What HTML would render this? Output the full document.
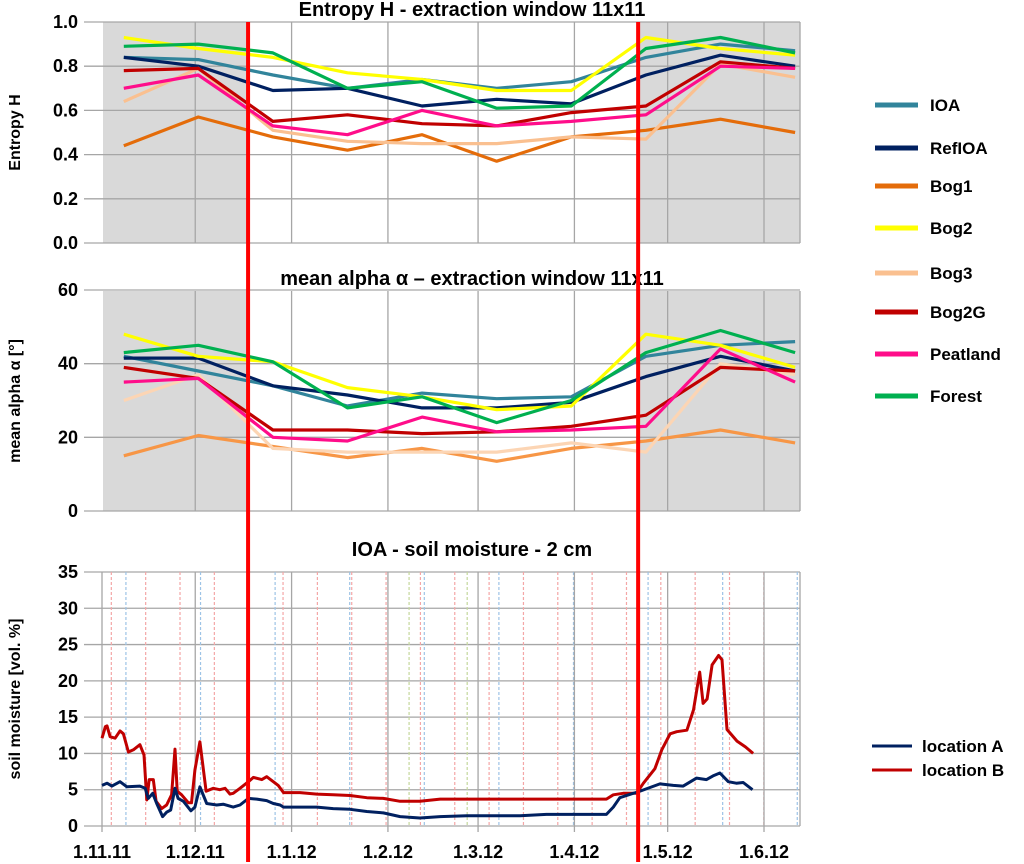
<!DOCTYPE html>
<html><head><meta charset="utf-8"><style>
html,body{margin:0;padding:0;background:#fff;}
svg{display:block;font-family:"Liberation Sans",sans-serif;}
</style></head><body>
<svg id="c" width="1024" height="864" xmlns="http://www.w3.org/2000/svg"></svg>
<script>
// ---- data ----
const acqDays = [7,31,55,79,103,127,151,175,199,223];
const seriesNames = ["IOA","RefIOA","Bog1","Bog2","Bog3","Bog2G","Peatland","Forest"];
const entIOA = [0.84,0.83,0.76,0.70,0.74,0.70,0.73,0.84,0.90,0.87];
const entRefIOA = [0.84,0.80,0.69,0.70,0.62,0.65,0.63,0.76,0.85,0.80];
const entBog1 = [0.44,0.57,0.48,0.42,0.49,0.37,0.48,0.51,0.56,0.50];
const entBog2 = [0.93,0.88,0.84,0.77,0.74,0.69,0.69,0.93,0.88,0.85];
const entBog3 = [0.64,0.79,0.51,0.46,0.45,0.45,0.48,0.47,0.81,0.75];
const entBog2G = [0.78,0.79,0.55,0.58,0.54,0.53,0.59,0.62,0.82,0.79];
const entPeatland = [0.70,0.76,0.53,0.49,0.60,0.53,0.55,0.58,0.80,0.79];
const entForest = [0.89,0.90,0.86,0.70,0.73,0.61,0.62,0.88,0.93,0.86];
const alpIOA = [42,38,34,28.5,32,30.5,31,42,45,46];
const alpRefIOA = [41.5,41.5,34,31.5,28,28,29.5,36.5,42,38];
const alpBog1 = [15,20.5,17.5,14.5,17,13.5,17,19,22,18.5];
const alpBog2 = [48,42,40.5,33.5,31,27.5,28.5,48,45,39];
const alpBog3 = [30,37,17,16,16,16,18.5,16,40,37];
const alpBog2G = [39,36,22,22,21,21.5,23,26,39,38];
const alpPeatland = [35,36,20,19,25.5,21.5,22,23,44,35];
const alpForest = [43,45,40.5,28,31,24,30,43,49,43];
const entTicks = ["0.0","0.2","0.4","0.6","0.8","1.0"];
const alpTicks = ["0","20","40","60"];
const smTicks = ["0","5","10","15","20","25","30","35"];
const monthLabels = ["1.11.11","1.12.11","1.1.12","1.2.12","1.3.12","1.4.12","1.5.12","1.6.12"];
const monthDays = [0,30,61,92,121,152,182,213];
const periodDays = [47,172.5];
const smDaysA = [0,1.6,3.2,5.8,8,12.2,13.9,14.9,16.3,17.6,19.5,20.8,22.1,23.5,24.5,26.2,28.6,29.9,31.5,33.7,36.9,39,42.2,44.4,47.1,49.8,53,55.1,57.3,58.4,69.1,74.4,79.8,85.2,90.5,95.9,102.3,108.8,117.4,134.5,143,162.3,164.5,166.6,170.9,172.5,179.5,183.8,187,191.3,194.5,196.6,198.8,201.5,204.1,206.3,209.3];
const smValsA = [5.6,5.9,5.5,6.1,5.4,5.5,5.2,3.8,4.5,3.1,1.3,1.9,2.2,5.2,3.8,3.4,2.1,2.6,5.4,3.1,2.9,3.0,2.6,2.9,3.8,3.7,3.5,3.1,2.9,2.6,2.6,2.4,2.3,2.0,1.8,1.3,1.1,1.3,1.4,1.4,1.6,1.6,2.6,3.9,4.5,4.7,5.8,5.6,5.5,6.6,6.4,6.9,7.3,6.1,5.9,6.0,5.0];
const smDaysB = [0,1.1,1.6,2.6,4.2,5.8,6.9,8.5,10.1,12.2,13.5,14.4,15.2,16.5,17.4,19.2,20.8,22.4,23.5,24.2,25.6,27.8,28.8,29.9,31.5,33.5,35.8,37.9,39.6,41.2,42.2,44.4,47.1,48.7,51.4,53,55.1,56.7,58.4,60.5,63.7,69.1,74.4,79.8,85.2,90.5,95.9,102.3,108.8,134.5,162.3,164.5,167.7,172,174.2,177.9,180.1,182.8,184.9,188.2,190.3,192.3,193.4,194.7,196.3,198.4,199.5,201.1,204.3,207,209.5];
const smValsB = [12.1,13.7,13.8,12.3,12.1,13.1,12.7,10.2,10.5,11.2,9.8,3.6,6.4,6.4,3.4,2.4,2.9,4.3,10.6,4.8,4.3,3.2,3.2,7.7,11.6,4.8,5.2,5.0,5.2,4.4,4.5,5.2,6.1,6.7,6.4,6.8,6.1,5.6,4.6,4.6,4.6,4.4,4.3,4.2,3.9,3.8,3.4,3.4,3.7,3.7,3.7,4.3,4.5,4.5,5.9,7.9,10.5,12.7,13.0,13.2,16.0,21.2,16.9,17.5,22.2,23.5,22.9,13.3,11.7,10.9,10.0];

// ---- helpers ----
const NS="http://www.w3.org/2000/svg";
const svg=document.getElementById('c');
function mk(tag,attrs,parent){const e=document.createElementNS(NS,tag);for(const k in attrs)e.setAttribute(k,attrs[k]);(parent||svg).appendChild(e);return e;}
const X0=102, PXD=3.108, XR=800;
const xDay=d=>X0+d*PXD;
const entY=v=>243-v*221;
const alpY=v=>511-v*(221/60);
const smY=v=>826-v*(254/35);
const colors={IOA:"#31849B",RefIOA:"#002060",Bog1:"#E46C0A",Bog2:"#FFFF00",Bog3:"#FAC090",Bog2G:"#C00000",Peatland:"#FF0D8A",Forest:"#00B050"};
const colors2={IOA:"#31849B",RefIOA:"#002060",Bog1:"#F79646",Bog2:"#FFFF00",Bog3:"#FCD5B4",Bog2G:"#C00000",Peatland:"#FF0D8A",Forest:"#00B050"};
const entData={IOA:entIOA,RefIOA:entRefIOA,Bog1:entBog1,Bog2:entBog2,Bog3:entBog3,Bog2G:entBog2G,Peatland:entPeatland,Forest:entForest};
const alpData={IOA:alpIOA,RefIOA:alpRefIOA,Bog1:alpBog1,Bog2:alpBog2,Bog3:alpBog3,Bog2G:alpBog2G,Peatland:alpPeatland,Forest:alpForest};

function panel(name,top,bot,yfn,ticks,tickVals,title,ytitle,data,cols){
  const g=mk('g',{});
  
  
  const s1=mk('rect',{x:X0+1,y:top,width:xDay(periodDays[0])-X0-1,height:bot-top,fill:'#D9D9D9'},g);
  
  const s2=mk('rect',{x:xDay(periodDays[1]),y:top,width:XR-xDay(periodDays[1]),height:bot-top,fill:'#D9D9D9'},g);
  
  tickVals.forEach((v,i)=>{
    const y=yfn(v);
    const l=mk('line',{x1:X0-18,x2:XR,y1:y,y2:y,stroke:'#A6A6A6','stroke-width':1.3},g);
    
    const t=mk('text',{x:X0-24,y:y+6,'text-anchor':'end','font-size':18,'font-weight':'bold',fill:'#000'},g);
    t.textContent=ticks[i];
    
  });
  monthDays.slice(1).forEach(d=>{
    const l=mk('line',{x1:xDay(d),x2:xDay(d),y1:top,y2:bot,stroke:'#A6A6A6','stroke-width':1.3},g);
    
  });
  mk('line',{x1:XR,x2:XR,y1:top,y2:bot,stroke:'#A6A6A6','stroke-width':1.3},g);
  const tt=mk('text',{x:472,y:top-6,'text-anchor':'middle','font-size':20,'font-weight':'bold'},g);
  tt.textContent=title;
  const cy=(top+bot)/2;
  const yt=mk('text',{x:0,y:0,'text-anchor':'middle','font-size':16,'font-weight':'bold',transform:`translate(20,${cy}) rotate(-90)`},g);
  yt.textContent=ytitle;
  seriesNames.forEach(n=>{
    const pts=data[n].map((v,i)=>xDay(acqDays[i]).toFixed(1)+','+yfn(v).toFixed(1)).join(' ');
    const p=mk('polyline',{points:pts,fill:'none',stroke:cols[n],'stroke-width':3.2,'stroke-linejoin':'round'},g);
    
  });
}
panel('entropy',22,243,entY,entTicks,[0,0.2,0.4,0.6,0.8,1.0],'Entropy H - extraction window 11x11','Entropy H',entData,colors);
panel('alpha',291,511,alpY,alpTicks,[0,20,40,60],'mean alpha α – extraction window 11x11','mean alpha α [°]',alpData,colors2);

const gb=mk('g',{});


const smTop=572, smBot=826;
smTicks.forEach((t,i)=>{
  const v=+t,y=smY(v);
  const l=mk('line',{x1:X0-18,x2:XR,y1:y,y2:y,stroke:'#A6A6A6','stroke-width':1.3},gb);
  
  const tx=mk('text',{x:X0-24,y:y+6,'text-anchor':'end','font-size':18,'font-weight':'bold'},gb);
  tx.textContent=t;
});
for(let d=3;d<=215;d+=11.05){
  const l=mk('line',{x1:xDay(d),x2:xDay(d),y1:smTop,y2:smBot,stroke:'#F4A6A6','stroke-width':1.2,'stroke-dasharray':'3,2'},gb);
  
}
for(let d=7.7;d<=224;d+=24){
  const l=mk('line',{x1:xDay(d),x2:xDay(d),y1:smTop,y2:smBot,stroke:'#9DC3E6','stroke-width':1.2,'stroke-dasharray':'3,2'},gb);
  
}
[98.8,117.5].forEach(d=>{
  const l=mk('line',{x1:xDay(d),x2:xDay(d),y1:smTop,y2:smBot,stroke:'#C4D79B','stroke-width':1.2,'stroke-dasharray':'3,2'},gb);
  
});
monthDays.forEach((d,i)=>{
  const l=mk('line',{x1:xDay(d),x2:xDay(d),y1:smTop,y2:smBot+6,stroke:'#A6A6A6','stroke-width':1.3},gb);
  
  const t=mk('text',{x:xDay(d),y:858,'text-anchor':'middle','font-size':18,'font-weight':'bold'},gb);
  t.textContent=monthLabels[i];
});
mk('line',{x1:XR,x2:XR,y1:smTop,y2:smBot,stroke:'#A6A6A6','stroke-width':1.3},gb);
const bt=mk('text',{x:472,y:556,'text-anchor':'middle','font-size':20,'font-weight':'bold'},gb);
bt.textContent='IOA - soil moisture - 2 cm';
const byt=mk('text',{x:0,y:0,'text-anchor':'middle','font-size':16,'font-weight':'bold',transform:`translate(20,${(smTop+smBot)/2}) rotate(-90)`},gb);
byt.textContent='soil moisture [vol. %]';
const lb=mk('polyline',{points:smDaysB.map((d,i)=>xDay(d).toFixed(1)+','+smY(smValsB[i]).toFixed(1)).join(' '),fill:'none',stroke:'#C00000','stroke-width':3,'stroke-linejoin':'round'},gb);

const la=mk('polyline',{points:smDaysA.map((d,i)=>xDay(d).toFixed(1)+','+smY(smValsA[i]).toFixed(1)).join(' '),fill:'none',stroke:'#002060','stroke-width':3,'stroke-linejoin':'round'},gb);


periodDays.forEach(d=>{
  const l=mk('line',{x1:xDay(d),x2:xDay(d),y1:22,y2:862,stroke:'#FF0000','stroke-width':4});
  
});

const legY=[105,148,186,228,273,312,354,396];
seriesNames.forEach((n,i)=>{
  const g=mk('g',{});
  
  
  mk('line',{x1:875,x2:918,y1:legY[i],y2:legY[i],stroke:colors[n],'stroke-width':5},g);
  const t=mk('text',{x:930,y:legY[i]+6,'font-size':17,'font-weight':'bold'},g);
  t.textContent=n;
});
[["location A","#002060",746],["location B","#C00000",770]].forEach(([n,c,y])=>{
  const g=mk('g',{});
  
  
  mk('line',{x1:872,x2:912,y1:y,y2:y,stroke:c,'stroke-width':3},g);
  const t=mk('text',{x:922,y:y+6,'font-size':17,'font-weight':'bold'},g);
  t.textContent=n;
});
</script>
</body></html>
